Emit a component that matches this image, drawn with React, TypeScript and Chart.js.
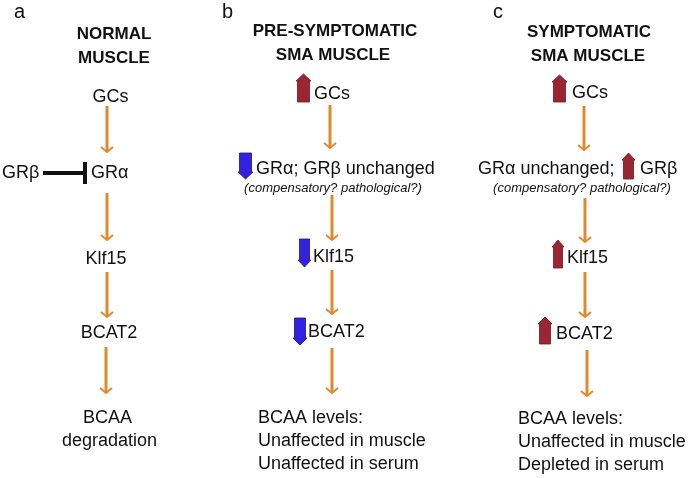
import React, { useEffect, useRef } from "react";
import { Chart, registerables } from "chart.js";
Chart.register(...registerables);

// ---- diagram data (diagram units map 1:1 to the 689x478 plane) ----
const panelLetters = ["a", "b", "c"];
const panelLetterX = [14, 222, 493];
const panelLetterY = [18, 18, 18];

const titleLines = ["NORMAL", "MUSCLE", "PRE-SYMPTOMATIC", "SMA MUSCLE", "SYMPTOMATIC", "SMA MUSCLE"];
const titleX = [114, 114, 335, 333, 589, 588];
const titleY = [39, 63, 36, 60, 37, 61];

// centred node labels
const centerLabels = ["GCs", "Klf15", "BCAT2", "BCAA", "degradation"];
const centerX = [110.5, 106, 109, 107.5, 109.5];
const centerY = [102, 264, 338, 423, 446];

// left-aligned node labels
const leftLabels = [
  "GRβ", "GRα",
  "GCs", "GRα; GRβ unchanged", "Klf15", "BCAT2", "BCAA levels:", "Unaffected in muscle", "Unaffected in serum",
  "GCs", "GRα unchanged;", "GRβ", "Klf15", "BCAT2", "BCAA levels:", "Unaffected in muscle", "Depleted in serum",
];
const leftX = [2, 91, 314, 256, 313, 308, 258, 258, 258, 572, 478, 640, 567, 556, 518, 518, 518];
const leftY = [178, 178, 99, 174, 262, 337, 423, 446, 469, 98, 174, 174, 263, 339, 424, 447, 470];

// italic notes
const noteLabels = ["(compensatory? pathological?)", "(compensatory? pathological?)"];
const noteX = [333, 582];
const noteY = [192, 192];

// orange pathway arrows: x, start y, end y
const flowX = [107, 107, 107, 106, 330, 332, 332, 332, 584, 585, 585, 587];
const flowStart = [106, 193, 272, 347, 105, 195, 270, 348, 106, 198, 272, 350];
const flowEnd = [152, 240, 317, 393, 148, 240, 314, 393, 150, 242, 317, 396];

// inhibition GRβ ⊣ GRα
const inhibitX = [43, 85];
const inhibitY = [173, 173];

// change indicators: direction (+1 up / -1 down), left, right, top, bottom
const changeDir = [1, -1, -1, -1, 1, 1, 1, 1];
const changeX0 = [296, 238, 298, 293, 552, 622, 552, 538];
const changeX1 = [311, 253, 311, 307, 567, 635, 564, 552];
const changeY0 = [74, 153, 239, 318, 75, 153, 240, 317];
const changeY1 = [102, 179, 267, 345, 102, 179, 268, 344];

const ORANGE = "#E0892E";
const RED = "#9B2633";
const BLUE = "#3322DD";
const FONT = "'Liberation Sans', Arial, Helvetica, sans-serif";

const diagramPlugin = {
  id: "diagram",
  afterDatasetsDraw(chart: any) {
    const { ctx, scales } = chart;
    const X = (v: number) => scales.x.getPixelForValue(v);
    const Y = (v: number) => scales.y.getPixelForValue(v);
    ctx.save();
    // arrowheads
    ctx.strokeStyle = ORANGE;
    ctx.lineWidth = 2;
    ctx.lineJoin = "miter";
    flowX.forEach((x, i) => {
      const px = X(x);
      const py = Y(flowEnd[i]);
      ctx.beginPath();
      ctx.moveTo(px - 6, py - 5);
      ctx.lineTo(px, py);
      ctx.lineTo(px + 6, py - 5);
      ctx.stroke();
    });
    // inhibition bar
    ctx.fillStyle = "#111";
    const bx = X(inhibitX[1]);
    ctx.fillRect(bx - 2, Y(inhibitY[1] - 11), 4, Y(inhibitY[1] + 11) - Y(inhibitY[1] - 11));
    // block arrows
    changeDir.forEach((d, i) => {
      const x0 = X(changeX0[i]);
      const x1 = X(changeX1[i]);
      const y0 = Y(changeY0[i]);
      const y1 = Y(changeY1[i]);
      const xc = (x0 + x1) / 2;
      const head = 7;
      const inset = 1.5;
      ctx.beginPath();
      if (d > 0) {
        ctx.moveTo(xc, y0);
        ctx.lineTo(x1, y0 + head);
        ctx.lineTo(x1 - inset, y0 + head);
        ctx.lineTo(x1 - inset, y1);
        ctx.lineTo(x0 + inset, y1);
        ctx.lineTo(x0 + inset, y0 + head);
        ctx.lineTo(x0, y0 + head);
      } else {
        ctx.moveTo(xc, y1);
        ctx.lineTo(x1, y1 - head);
        ctx.lineTo(x1 - inset, y1 - head);
        ctx.lineTo(x1 - inset, y0);
        ctx.lineTo(x0 + inset, y0);
        ctx.lineTo(x0 + inset, y1 - head);
        ctx.lineTo(x0, y1 - head);
      }
      ctx.closePath();
      ctx.fillStyle = d > 0 ? RED : BLUE;
      ctx.fill();
      ctx.strokeStyle = d > 0 ? "#6E1820" : "#1E1290";
      ctx.lineWidth = 0.8;
      ctx.stroke();
    });
    // text
    ctx.fillStyle = "#111";
    ctx.textBaseline = "alphabetic";
    ctx.font = `20px ${FONT}`;
    ctx.textAlign = "left";
    panelLetters.forEach((t, i) => ctx.fillText(t, X(panelLetterX[i]), Y(panelLetterY[i])));
    ctx.font = `bold 17px ${FONT}`;
    ctx.textAlign = "center";
    titleLines.forEach((t, i) => ctx.fillText(t, X(titleX[i]), Y(titleY[i])));
    ctx.font = `18px ${FONT}`;
    centerLabels.forEach((t, i) => ctx.fillText(t, X(centerX[i]), Y(centerY[i])));
    ctx.textAlign = "left";
    leftLabels.forEach((t, i) => ctx.fillText(t, X(leftX[i]), Y(leftY[i])));
    ctx.font = `italic 13px ${FONT}`;
    ctx.textAlign = "center";
    noteLabels.forEach((t, i) => ctx.fillText(t, X(noteX[i]), Y(noteY[i])));
    ctx.restore();
  },
};

export default function App() {
  const ref = useRef<HTMLCanvasElement | null>(null);
  useEffect(() => {
    if (!ref.current) return;
    const datasets: any[] = flowX.map((x, i) => ({
      data: [
        { x, y: flowStart[i] },
        { x, y: flowEnd[i] },
      ],
      showLine: true,
      borderColor: ORANGE,
      borderWidth: 3,
      borderCapStyle: "butt",
      pointRadius: 0,
    }));
    datasets.push({
      data: inhibitX.map((x, i) => ({ x, y: inhibitY[i] })),
      showLine: true,
      borderColor: "#111",
      borderWidth: 4,
      borderCapStyle: "butt",
      pointRadius: 0,
    });
    const chart = new Chart(ref.current, {
      type: "scatter",
      data: { datasets },
      options: {
        animation: false,
        responsive: false,
        maintainAspectRatio: false,
        layout: { padding: 0 },
        plugins: { legend: { display: false }, tooltip: { enabled: false } },
        scales: {
          x: { type: "linear", min: 0, max: 689, display: false },
          y: { type: "linear", min: 0, max: 478, reverse: true, display: false },
        },
      },
      plugins: [diagramPlugin],
    } as any);
    return () => chart.destroy();
  }, []);
  return (
    <div style={{ position: "absolute", left: 0, top: 0, width: 689, height: 478, background: "#fff" }}>
      <canvas ref={ref} width={689} height={478} style={{ display: "block" }} />
    </div>
  );
}
